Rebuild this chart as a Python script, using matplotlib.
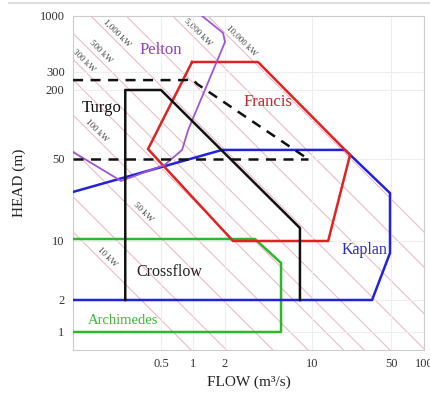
import numpy as np
import matplotlib.pyplot as plt
from matplotlib.lines import Line2D

plt.rcParams['font.family'] = ['Liberation Serif', 'DejaVu Serif']

# turbine application envelopes (flow m3/s, head m)
pelton_q = [0.074, 0.21, 0.54, 0.79, 0.90, 2.0, 1.92, 1.22]
pelton_h = [57.5, 32.5, 44.5, 60, 89.6, 572, 694, 1000]

francis_q = [0.98, 3.68, 21.7, 13.9, 2.32, 0.377, 0.98]
francis_h = [372, 372, 54.2, 10, 10, 61, 372]

kaplan_q = [0.074, 1.88, 19.6, 49, 49, 34, 0.074]
kaplan_h = [26.2, 60, 60, 25.6, 7.2, 2, 2]

crossflow_q = [0.23, 0.23, 0.5, 8.0, 8.0]
crossflow_h = [2, 200, 200, 12.9, 2]

archimedes_q = [0.074, 3.48, 5.64, 5.64, 0.074]
archimedes_h = [10.4, 10.4, 5.5, 1, 1]

turgo_q = [0.074, 0.85, 0.98, 1.1, 9.3]
turgo_h = [250, 250, 255, 228, 50]
turgo_low_q = [0.074, 9.3]
turgo_low_h = [50, 50]

# constant power lines, kW  (P = 9.81 * Q * H)
power_kw = [10, 20, 50, 100, 200, 300, 500, 1000, 2000, 5000, 10000]
labelled_kw = [10, 50, 100, 300, 500, 1000, 5000, 10000]
label_q = [0.169, 0.344, 0.139, 0.106, 0.148, 0.206, 1.0, 2.37]

xticks = [0.5, 1, 2, 10, 50, 100]
yticks = [1, 2, 10, 50, 200, 300, 1000]

# the printed chart spaces its tick labels unevenly; follow that spacing
x_anchor = np.array([-4, np.log10(0.5), 0, np.log10(2), 1, np.log10(50), 2, 5])
x_place = np.array([-231, 161, 193, 225, 312, 391, 424, 754])
y_anchor = np.array([-4, 0, np.log10(2), 1, np.log10(50), np.log10(200),
                     np.log10(300), 3, 6])
y_place = -np.array([756, 332, 300, 241, 159, 90, 72, 16, -305])


def fx(v):
    with np.errstate(divide='ignore', invalid='ignore'):
        return np.interp(np.log10(np.asarray(v, float)), x_anchor, x_place)


def ix(p):
    return 10 ** np.interp(np.asarray(p, float), x_place, x_anchor)


def fy(v):
    with np.errstate(divide='ignore', invalid='ignore'):
        return np.interp(np.log10(np.asarray(v, float)), y_anchor, y_place)


def iy(p):
    return 10 ** np.interp(np.asarray(p, float), y_place, y_anchor)


fig = plt.figure(figsize=(4.3, 3.94), dpi=100)
rect = [73 / 430, 44 / 394, 351 / 430, 334 / 394]

# iso-power lines on a true log-log overlay
bg = fig.add_axes(rect, zorder=0)
bg.set_xscale('log')
bg.set_yscale('log')
bg.set_xlim(0.094, 94)
bg.set_ylim(1.06, 762)
bg.axis('off')
q = np.logspace(-1.5, 2.5, 50)
for p in power_kw:
    bg.plot(q, p / 9.81 / q, color='#ebbcc5', lw=0.8)
for p, ql in zip(labelled_kw, label_q):
    bg.annotate(f'{p:,} kW', (ql, p / 9.81 / ql), xytext=(3, 3),
                textcoords='offset points', rotation=-45,
                rotation_mode='anchor', ha='center', va='center',
                fontsize=6.5, color='#444444')

ax = fig.add_axes(rect, zorder=1)
ax.patch.set_visible(False)
ax.set_xscale('function', functions=(fx, ix))
ax.set_yscale('function', functions=(fy, iy))
ax.set_xlim(float(ix(73)), float(ix(424)))
ax.set_ylim(float(iy(-350)), float(iy(-16)))

lw = 1.8
dash = (0, (4, 3))
ax.plot(archimedes_q, archimedes_h, color='#2cb82c', lw=lw, zorder=3)
ax.plot(kaplan_q, kaplan_h, color='#2222dd', lw=lw, zorder=3)
ax.plot(francis_q, francis_h, color='#e02222', lw=lw, zorder=3)
ax.plot(pelton_q, pelton_h, color='#a055d2', lw=1.3, zorder=3)
ax.plot(crossflow_q, crossflow_h, color='#111111', lw=lw, zorder=4)
ax.plot(turgo_q, turgo_h, color='#111111', lw=lw, ls=dash, zorder=4)
ax.plot(turgo_low_q, turgo_low_h, color='#111111', lw=lw, ls=dash, zorder=4)

ax.text(0.5, 482, 'Pelton', color='#9040c0', fontsize=12, ha='center', va='center')
ax.text(0.139, 139, 'Turgo', color='#111111', fontsize=12, ha='center', va='center')
ax.text(4.43, 157, 'Francis', color='#c8282c', fontsize=12, ha='center', va='center')
ax.text(0.594, 4.3, 'Crossflow', color='#222222', fontsize=11.5, ha='center', va='center')
ax.text(29.4, 7.8, 'Kaplan', color='#2a2ab8', fontsize=11.5, ha='center', va='center')
ax.text(0.219, 1.27, 'Archimedes', color='#3cb83c', fontsize=10.5, ha='center', va='center')

ax.set_xticks(xticks, [str(t) for t in xticks])
ax.set_yticks(yticks, [str(t) for t in yticks])
ax.xaxis.set_minor_locator(plt.NullLocator())
ax.yaxis.set_minor_locator(plt.NullLocator())
ax.tick_params(length=0, labelsize=9, colors='#333333', pad=6)
ax.grid(True, color='#eeeeee', lw=0.8)
for s in ax.spines.values():
    s.set_color('#cccccc')

ax.set_xlabel('FLOW (m³/s)', fontsize=11, color='#222222')
ax.set_ylabel('HEAD (m)', fontsize=11, color='#222222')
ax.xaxis.set_label_coords(0.5, -0.075)
ax.yaxis.set_label_coords(-0.135, 0.5)

fig.add_artist(Line2D([0.02, 1.0], [0.992, 0.992], color='#dddddd', lw=1.5,
                      transform=fig.transFigure))

fig.savefig('out.png', dpi=100)
